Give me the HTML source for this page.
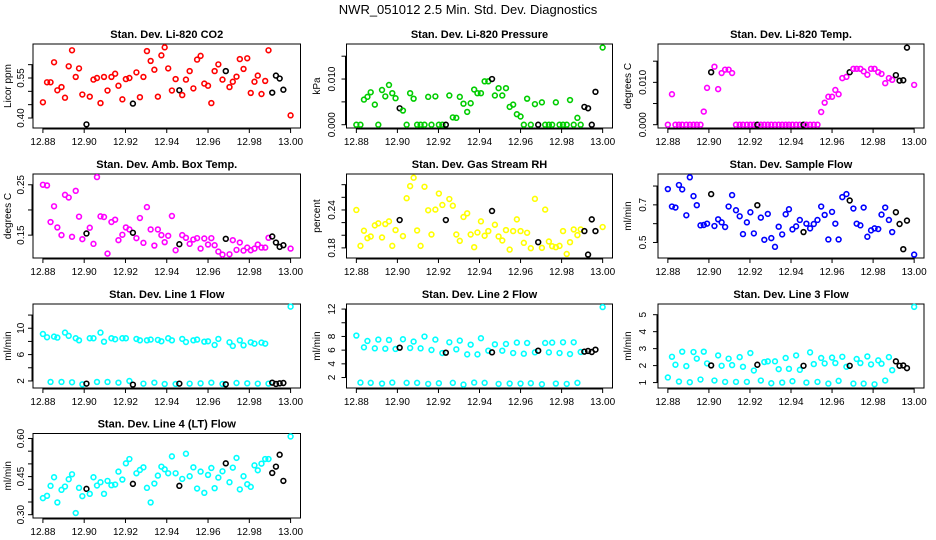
<!DOCTYPE html>
<html><head><meta charset="utf-8"><style>
html,body{margin:0;padding:0;background:#fff;}
svg{display:block;font-family:"Liberation Sans",Arial,sans-serif;}
</style></head><body>
<svg id="chart" width="936" height="540" viewBox="0 0 936 540" xmlns="http://www.w3.org/2000/svg">
<rect x="0" y="0" width="936" height="540" fill="#fff"/>
<text x="468" y="14" font-size="13" text-anchor="middle">NWR_051012  2.5 Min. Std. Dev. Diagnostics</text>
</svg>
<script>
const times=[12.880,12.882,12.8837,12.8854,12.887,12.889,12.8907,12.8925,12.8941,12.8959,12.8975,12.8991,12.9011,12.9027,12.9045,12.9062,12.9079,12.9096,12.9113,12.9132,12.915,12.9166,12.9185,12.9202,12.9219,12.9236,12.9253,12.927,12.9287,12.9304,12.9322,12.934,12.9357,12.9374,12.939,12.9407,12.9425,12.9443,12.9461,12.9475,12.9493,12.9511,12.9529,12.9547,12.9564,12.9582,12.96,12.9616,12.9632,12.965,12.967,12.9686,12.9704,12.972,12.9738,12.9754,12.9772,12.979,12.9807,12.9825,12.9841,12.9859,12.9877,12.9893,12.9911,12.9929,12.9947,12.9965,13.0];
const blackIdx=[12,25,38,51,64,65,66,67];
const xTicks=[12.88,12.90,12.92,12.94,12.96,12.98,13.00];
const xTickLabels=["12.88","12.90","12.92","12.94","12.96","12.98","13.00"];
const panelTitles=["Stan. Dev. Li-820 CO2","Stan. Dev. Li-820 Pressure","Stan. Dev. Li-820 Temp.","Stan. Dev. Amb. Box Temp.","Stan. Dev. Gas Stream RH","Stan. Dev. Sample Flow","Stan. Dev. Line 1 Flow","Stan. Dev. Line 2 Flow","Stan. Dev. Line 3 Flow","Stan. Dev. Line 4 (LT) Flow"];
const yTitles=["Licor ppm","kPa","degrees C","degrees C","percent","ml/min","ml/min","ml/min","ml/min","ml/min"];
const colors=["#ff0000","#00cd00","#ff00ff","#ff00ff","#ffff00","#0000ff","#00ffff","#00ffff","#00ffff","#00ffff"];
const yDomains=[[0.3625,0.6775],[-0.00072,0.01767],[-0.00078,0.01906],[0.1046,0.2714],[0.164,0.2969],[0.4175,0.864],[0.93,13.68],[0.47,12.74],[0.68,5.63],[0.287,0.6196]];
const yTicks=[[0.40,0.45,0.50,0.55,0.60],[0,0.005,0.010,0.015],[0,0.005,0.010,0.015],[0.15,0.20,0.25],[0.18,0.20,0.22,0.24,0.26,0.28],[0.5,0.6,0.7,0.8],[2,4,6,8,10,12],[2,4,6,8,10,12],[1,2,3,4,5],[0.30,0.35,0.40,0.45,0.50,0.55,0.60]];
const yLabelVals=[[0.40,0.55],[0,0.010],[0,0.010],[0.15,0.25],[0.18,0.24],[0.5,0.7],[2,6,10],[2,4,6,8,12],[1,2,3,4,5],[0.30,0.45,0.60]];
const yLabelText=[["0.40","0.55"],["0.000","0.010"],["0.000","0.010"],["0.15","0.25"],["0.18","0.24"],["0.5","0.7"],["2","6","10"],["2","4","6","8","12"],["1","2","3","4","5"],["0.30","0.45","0.60"]];
const co2=[.459,.534,.534,.609,.504,.516,.476,.594,.654,.554,.586,.488,.376,.48,.544,.55,.456,.554,.503,.554,.566,.521,.47,.546,.55,.454,.571,.478,.554,.651,.614,.581,.48,.635,.665,.586,.503,.546,.504,.486,.544,.576,.511,.619,.633,.529,.521,.456,.576,.601,.544,.576,.516,.536,.555,.621,.584,.624,.494,.536,.559,.49,.539,.654,.495,.559,.548,.506,.41];
const pressure=[0,0,.0055,.0061,.0071,.0044,0,.0076,.0062,.0087,.0069,.0058,.0036,.0031,0,.0069,.0057,0,0,0,.0061,0,.0062,0,0,0,.0064,.0016,.0015,.0061,.0046,.0028,.0047,.0077,.0069,.0069,.0095,.0095,.0100,.0064,.0080,.0064,.0080,.0039,.0044,.0023,.0018,0,.0057,0,.0045,0,.0049,0,0,0,.0049,0,0,0,.0054,0,.0015,0,.0039,.0036,0,.0072,.0169];
const licorTemp=[0,.0072,0,0,0,0,0,0,0,0,.0031,.0087,.0124,.0137,.0084,.0122,.0130,.0130,.0122,0,0,0,0,0,0,0,0,0,0,0,0,0,0,0,0,0,0,0,0,0,0,0,0,.0030,.0052,.0066,.0066,.0082,.0072,.0110,.0113,.0124,.0132,.0132,.0132,.0126,.0118,.0132,.0132,.0124,.0120,.0098,.0110,.0106,.0117,.0104,.0105,.0182,.0094];
const boxTemp=[.25,.2487,.176,.2073,.1653,.15,.23,.2247,.1467,.238,.1867,.142,.1533,.1647,.1327,.2653,.1873,.186,.1133,.176,.1807,.14,.1507,.1653,.1613,.1547,.144,.184,.1347,.2057,.1613,.1293,.1613,.15,.136,.1487,.188,.12,.132,.15,.1447,.1327,.1413,.144,.1233,.1433,.1313,.144,.13,.1173,.1113,.1427,.112,.14,.1207,.1353,.1193,.1253,.12,.1233,.1313,.1253,.1253,.1447,.1473,.1353,.1267,.13,.1233];
const gasRH=[.24,.1832,.2071,.1954,.1981,.2156,.2188,.1965,.2177,.222,.1832,.2082,.2241,.1986,.2586,.2777,.291,.2076,.1832,.2767,.2395,.2012,.2406,.266,.2479,.2241,.2573,.2467,.2012,.1911,.2289,.2347,.2012,.1811,.2044,.222,.1992,.2066,.2384,.2166,.1981,.1917,.2082,.1773,.2066,.2251,.2066,.188,.2039,.1795,.2576,.189,.18,.2406,.1901,.1827,.1811,.1832,.2066,.1704,.189,.2092,.2002,.2092,.2066,.1694,.2251,.2066,.213];
const sampleFlow=[.784,.6911,.6857,.8054,.7821,.6446,.8464,.7464,.6982,.5911,.5929,.6,.7571,.5875,.6232,.6071,.5821,.6911,.7518,.6714,.6393,.5446,.6071,.6607,.5482,.6982,.6321,.5143,.6518,.5232,.4768,.5839,.5429,.65,.6768,.5696,.5857,.6196,.5554,.6,.575,.5982,.6196,.6911,.6464,.5161,.6625,.6,.5161,.7411,.7571,.7232,.6804,.6,.5911,.6857,.5304,.5643,.575,.5714,.6482,.6857,.6196,.5554,.6607,.5982,.4643,.6161,.4357];
const line1=[9.13,8.63,1.85,8.73,8.58,1.85,9.34,8.84,1.8,8.48,8.17,1.49,1.59,8.48,8.48,1.85,9.34,7.96,1.85,8.48,8.33,1.74,8.48,8.48,2.0,1.44,8.38,8.17,1.59,8.17,8.28,1.74,8.23,8.02,1.54,8.48,8.17,1.54,1.59,8.38,7.91,1.59,8.17,8.28,1.64,7.96,8.02,1.74,7.46,8.38,1.54,1.49,7.87,7.31,1.69,8.17,7.41,1.64,7.87,7.66,1.59,7.82,7.66,1.59,1.74,1.54,1.64,1.69,13.28];
const line2=[8.13,1.26,6.41,7.34,1.22,6.26,7.54,1.12,6.21,7.49,1.26,6.17,6.36,7.59,1.22,6.31,7.25,1.22,6.26,7.99,1.07,6.02,7.54,1.17,5.58,5.63,7.15,1.22,6.12,7.39,0.97,5.38,6.8,1.26,5.38,7.74,1.22,5.92,5.68,6.85,1.07,5.92,6.9,1.12,5.58,7.1,1.12,5.48,7.05,1.17,5.68,5.92,1.02,7.05,5.68,7.1,1.12,5.58,7.15,1.07,5.43,7.15,1.22,5.73,5.78,5.88,5.73,6.07,12.29];
const line3=[1.3,2.52,2.05,1.06,2.82,1.97,1.02,2.8,2.41,1.18,2.82,2.13,2.01,1.12,2.6,1.99,1.04,2.41,2.03,1.04,2.5,1.93,1.04,2.74,1.71,2.05,1.12,2.21,2.25,0.96,2.25,1.79,1.0,2.45,1.81,1.08,2.6,1.75,1.99,1.0,2.78,2.09,1.04,2.45,2.13,0.94,2.47,2.15,1.1,2.52,1.93,1.99,0.94,2.39,2.15,0.94,2.54,2.07,0.9,2.31,2.11,1.12,2.5,1.73,2.25,1.99,2.01,1.85,5.46];
const line4=[.3652,.3743,.4135,.4474,.3483,.3978,.4109,.4396,.4591,.3065,.4057,.373,.4017,.3822,.4474,.4148,.4278,.3822,.433,.4161,.4187,.4696,.4383,.5022,.5191,.4213,.463,.4761,.4865,.4057,.3483,.4226,.4539,.4891,.4787,.463,.5296,.463,.4135,.4409,.54,.4513,.4865,.403,.4696,.3861,.4565,.4839,.4043,.4461,.4709,.5022,.4278,.4852,.5235,.3996,.4513,.42,.4096,.4943,.4748,.5009,.5191,.5191,.4643,.4891,.5361,.433,.6078];
const seriesList=[co2,pressure,licorTemp,boxTemp,gasRH,sampleFlow,line1,line2,line3,line4];

const NS="http://www.w3.org/2000/svg";
const svg=document.getElementById('chart');
const colLeft=[33,346.5,658], colRight=[300.5,612.5,924];
const rowTop=[44,174,304,433.5], rowBottom=[128,258,388,518];
const yTitleX=[11,320,631], yTickLabX=[24,335,646];
const XMIN=12.8752, XMAX=13.0048;
function mk(tag,attrs,parent){const e=document.createElementNS(NS,tag);for(const k in attrs)e.setAttribute(k,attrs[k]);(parent||svg).appendChild(e);return e;}

seriesList.forEach((vals,p)=>{
  const c=p%3, r=Math.floor(p/3);
  const L=colLeft[c],R=colRight[c],T=rowTop[r],B=rowBottom[r];
  const [y0,y1]=yDomains[p];
  const xs=v=>L+(v-XMIN)/(XMAX-XMIN)*(R-L);
  const ys=v=>B-(v-y0)/(y1-y0)*(B-T);
  const g=mk('g',{});
  
  
  const box=mk('rect',{x:L,y:T,width:R-L,height:B-T,fill:'none',stroke:'#000','stroke-width':1},g);
  
  
  const t=mk('text',{x:(L+R)/2,y:T-6,'font-size':11,'font-weight':'bold','text-anchor':'middle'},g);
  t.textContent=panelTitles[p];
  
  
  const yt=mk('text',{x:yTitleX[c],y:(T+B)/2,'font-size':10,'text-anchor':'middle',transform:`rotate(-90 ${yTitleX[c]} ${(T+B)/2})`},g);
  yt.textContent=yTitles[p];
  
  
  // x axis
  const xa=mk('g',{},g);
  
  
  mk('line',{x1:xs(xTicks[0]),x2:xs(xTicks[xTicks.length-1]),y1:B+1,y2:B+1,stroke:'#000'},xa);
  xTicks.forEach((v,i)=>{
    mk('line',{x1:xs(v),x2:xs(v),y1:B,y2:B+5,stroke:'#000'},xa);
    const tl=mk('text',{x:xs(v),y:B+17,'font-size':10,'text-anchor':'middle'},xa);
    tl.textContent=xTickLabels[i];
    
    
  });
  // y axis
  const ya=mk('g',{},g);
  
  
  const tk=yTicks[p];
  mk('line',{x1:L-1,x2:L-1,y1:ys(tk[0]),y2:ys(tk[tk.length-1]),stroke:'#000'},ya);
  tk.forEach(v=>{mk('line',{x1:L-5,x2:L,y1:ys(v),y2:ys(v),stroke:'#000'},ya);});
  yLabelVals[p].forEach((v,i)=>{
    const X=yTickLabX[c], Y=ys(v);
    const tl=mk('text',{x:X,y:Y,'font-size':10,'text-anchor':'middle',transform:`rotate(-90 ${X} ${Y})`},ya);
    tl.textContent=yLabelText[p][i];
    
    
  });
  // points
  vals.forEach((v,i)=>{
    if(v===null||v===undefined)return;
    const isB=blackIdx.indexOf(i)>=0;
    const pt=mk('circle',{cx:xs(times[i]),cy:ys(v),r:2.4,fill:'none',stroke:isB?'#000':colors[p],'stroke-width':1.6},g);
    
    
  });
});
</script>
</body></html>
